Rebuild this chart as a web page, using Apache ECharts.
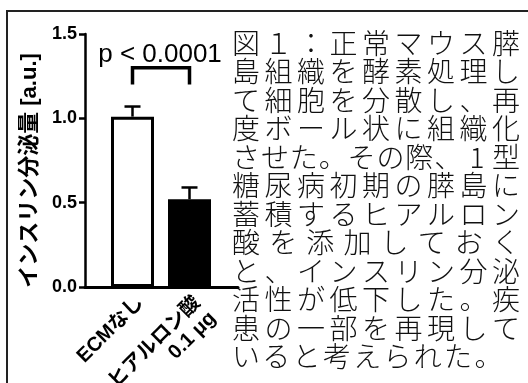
<!DOCTYPE html>
<html>
<head>
<meta charset="utf-8">
<script src="https://cdn.jsdelivr.net/npm/echarts@6/dist/echarts.min.js"></script>
<style>
  html, body { margin: 0; padding: 0; background: #fff; }
  #main { width: 528px; height: 383px; }
</style>
</head>
<body>
<div id="main"></div>
<script>
// データ
const categories = ['ECMなし', 'ヒアルロン酸\n0.1 μg']
const means = [1.01, 0.52]
const upperErr = [1.07, 0.59]
const yTicks = [0, 0.5, 1.0, 1.5]
const yName = 'インスリン分泌量 [a.u.]'
const pText = 'p < 0.0001'
const bracket = [0, 1, 1.3, 1.2] // 左カテゴリ, 右カテゴリ, 上端, 脚の下端
const pLabelY = 1.375
const captionLines = [
  '図１：正常マウス膵',
  '島組織を酵素処理し',
  'て細胞を分散し、再',
  '度ボール状に組織化',
  'させた。その際、1型',
  '糖尿病初期の膵島に',
  '蓄積するヒアルロン',
  '酸を添加しておく',
  'と、インスリン分泌',
  '活性が低下した。疾',
  '患の一部を再現して',
  'いると考えられた。'
]

const latin = "'Liberation Sans', 'Noto Sans CJK JP', sans-serif"
const cjk = "'Noto Sans CJK JP', sans-serif"

const chart = echarts.init(document.getElementById('main'), null, { renderer: 'canvas' })

// 右側の説明文（両端揃え）
const textLeft = 232
const textRight = 520
const fs = 28
const lineTop = 43
const lineStep = 28.5
const captionGraphics = []
captionLines.forEach((line, i) => {
  const chars = Array.from(line)
  const last = i === captionLines.length - 1
  const step = last ? 30.3 : (textRight - textLeft - fs) / (chars.length - 1)
  chars.forEach((ch, j) => {
    captionGraphics.push({
      type: 'text',
      x: textLeft + fs / 2 + j * step,
      y: lineTop + i * lineStep,
      style: {
        text: ch,
        fill: '#111',
        font: '300 ' + fs + 'px ' + cjk,
        textAlign: 'center',
        textVerticalAlign: 'middle'
      }
    })
  })
})

const option = {
  animation: false,
  backgroundColor: '#fff',
  grid: [
    { left: 85, right: 290, top: 34, bottom: 96, outerBoundsMode: 'none' },
    { left: 104, width: 114, top: 34, bottom: 96, outerBoundsMode: 'none' }
  ],
  xAxis: [
    {
      gridIndex: 0,
      type: 'category',
      data: categories,
      axisLine: { show: true, lineStyle: { color: '#000', width: 3 } },
      axisTick: { show: false },
      axisLabel: { show: false },
      splitLine: { show: false }
    },
    {
      gridIndex: 1,
      type: 'category',
      data: categories,
      axisLine: { show: false },
      axisTick: { show: false },
      axisLabel: {
        rotate: 45,
        margin: 5,
        color: '#000',
        fontSize: 20,
        fontWeight: 'bold',
        fontFamily: latin,
        lineHeight: 22,
        align: 'right',
        verticalAlign: 'top'
      }
    }
  ],
  yAxis: [
    {
      gridIndex: 0,
      type: 'value',
      min: 0,
      max: 1.5,
      interval: 0.5,
      axisLine: { show: true, lineStyle: { color: '#000', width: 2.5 } },
      axisTick: { show: true, inside: false, length: 6, lineStyle: { color: '#000', width: 2.5 } },
      axisLabel: {
        margin: 8,
        color: '#000',
        fontSize: 18,
        fontWeight: 'bold',
        fontFamily: latin,
        formatter: v => (yTicks.includes(v) ? v.toFixed(1) : '')
      },
      splitLine: { show: false },
      name: yName,
      nameLocation: 'middle',
      nameGap: 44,
      nameTextStyle: {
        color: '#000',
        fontSize: 22,
        fontWeight: 'bold',
        fontFamily: latin,
        padding: [0, 20, 0, 0]
      }
    },
    { gridIndex: 1, type: 'value', min: 0, max: 1.5, show: false }
  ],
  series: [
    {
      type: 'bar',
      xAxisIndex: 1,
      yAxisIndex: 1,
      barWidth: 43,
      data: means.map((v, i) => ({
        value: v,
        itemStyle: i === 0
          ? { color: '#fff', borderColor: '#000', borderWidth: 3 }
          : { color: '#000', borderColor: '#000', borderWidth: 2 }
      }))
    },
    {
      // エラーバー
      type: 'custom',
      xAxisIndex: 1,
      yAxisIndex: 1,
      clip: false,
      data: means.map((v, i) => [i, v, upperErr[i]]),
      encode: { x: 0, y: [1, 2] },
      renderItem (params, api) {
        const base = api.coord([api.value(0), api.value(1)])
        const top = api.coord([api.value(0), api.value(2)])
        const half = 8
        const style = { stroke: '#000', lineWidth: 2.5 }
        return {
          type: 'group',
          children: [
            { type: 'line', shape: { x1: top[0], y1: base[1], x2: top[0], y2: top[1] }, style },
            { type: 'line', shape: { x1: top[0] - half, y1: top[1], x2: top[0] + half, y2: top[1] }, style }
          ]
        }
      },
      z: 1
    },
    {
      // 有意差のブラケット
      type: 'custom',
      xAxisIndex: 1,
      yAxisIndex: 1,
      clip: false,
      data: [bracket],
      encode: { x: [0, 1], y: [2, 3] },
      renderItem (params, api) {
        const l = api.coord([api.value(0), api.value(2)])
        const r = api.coord([api.value(1), api.value(2)])
        const lb = api.coord([api.value(0), api.value(3)])
        const t = api.coord([(api.value(0) + api.value(1)) / 2, pLabelY])
        const style = { stroke: '#000', lineWidth: 3.5, fill: null, lineJoin: 'miter' }
        return {
          type: 'group',
          children: [
            {
              type: 'polyline',
              shape: { points: [[l[0], lb[1]], [l[0], l[1]], [r[0], r[1]], [r[0], lb[1]]] },
              style
            },
            {
              type: 'text',
              x: (l[0] + r[0]) / 2 - 1,
              y: t[1],
              style: {
                text: pText,
                fill: '#000',
                font: 'normal 26px ' + latin,
                textAlign: 'center',
                textVerticalAlign: 'middle'
              }
            }
          ]
        }
      }
    }
  ],
  graphic: [
    {
      type: 'rect',
      shape: { x: 7, y: 11, width: 560, height: 420 },
      style: { fill: null, stroke: '#222', lineWidth: 2 },
      silent: true
    },
    ...captionGraphics
  ]
}

chart.setOption(option)
</script>
</body>
</html>
